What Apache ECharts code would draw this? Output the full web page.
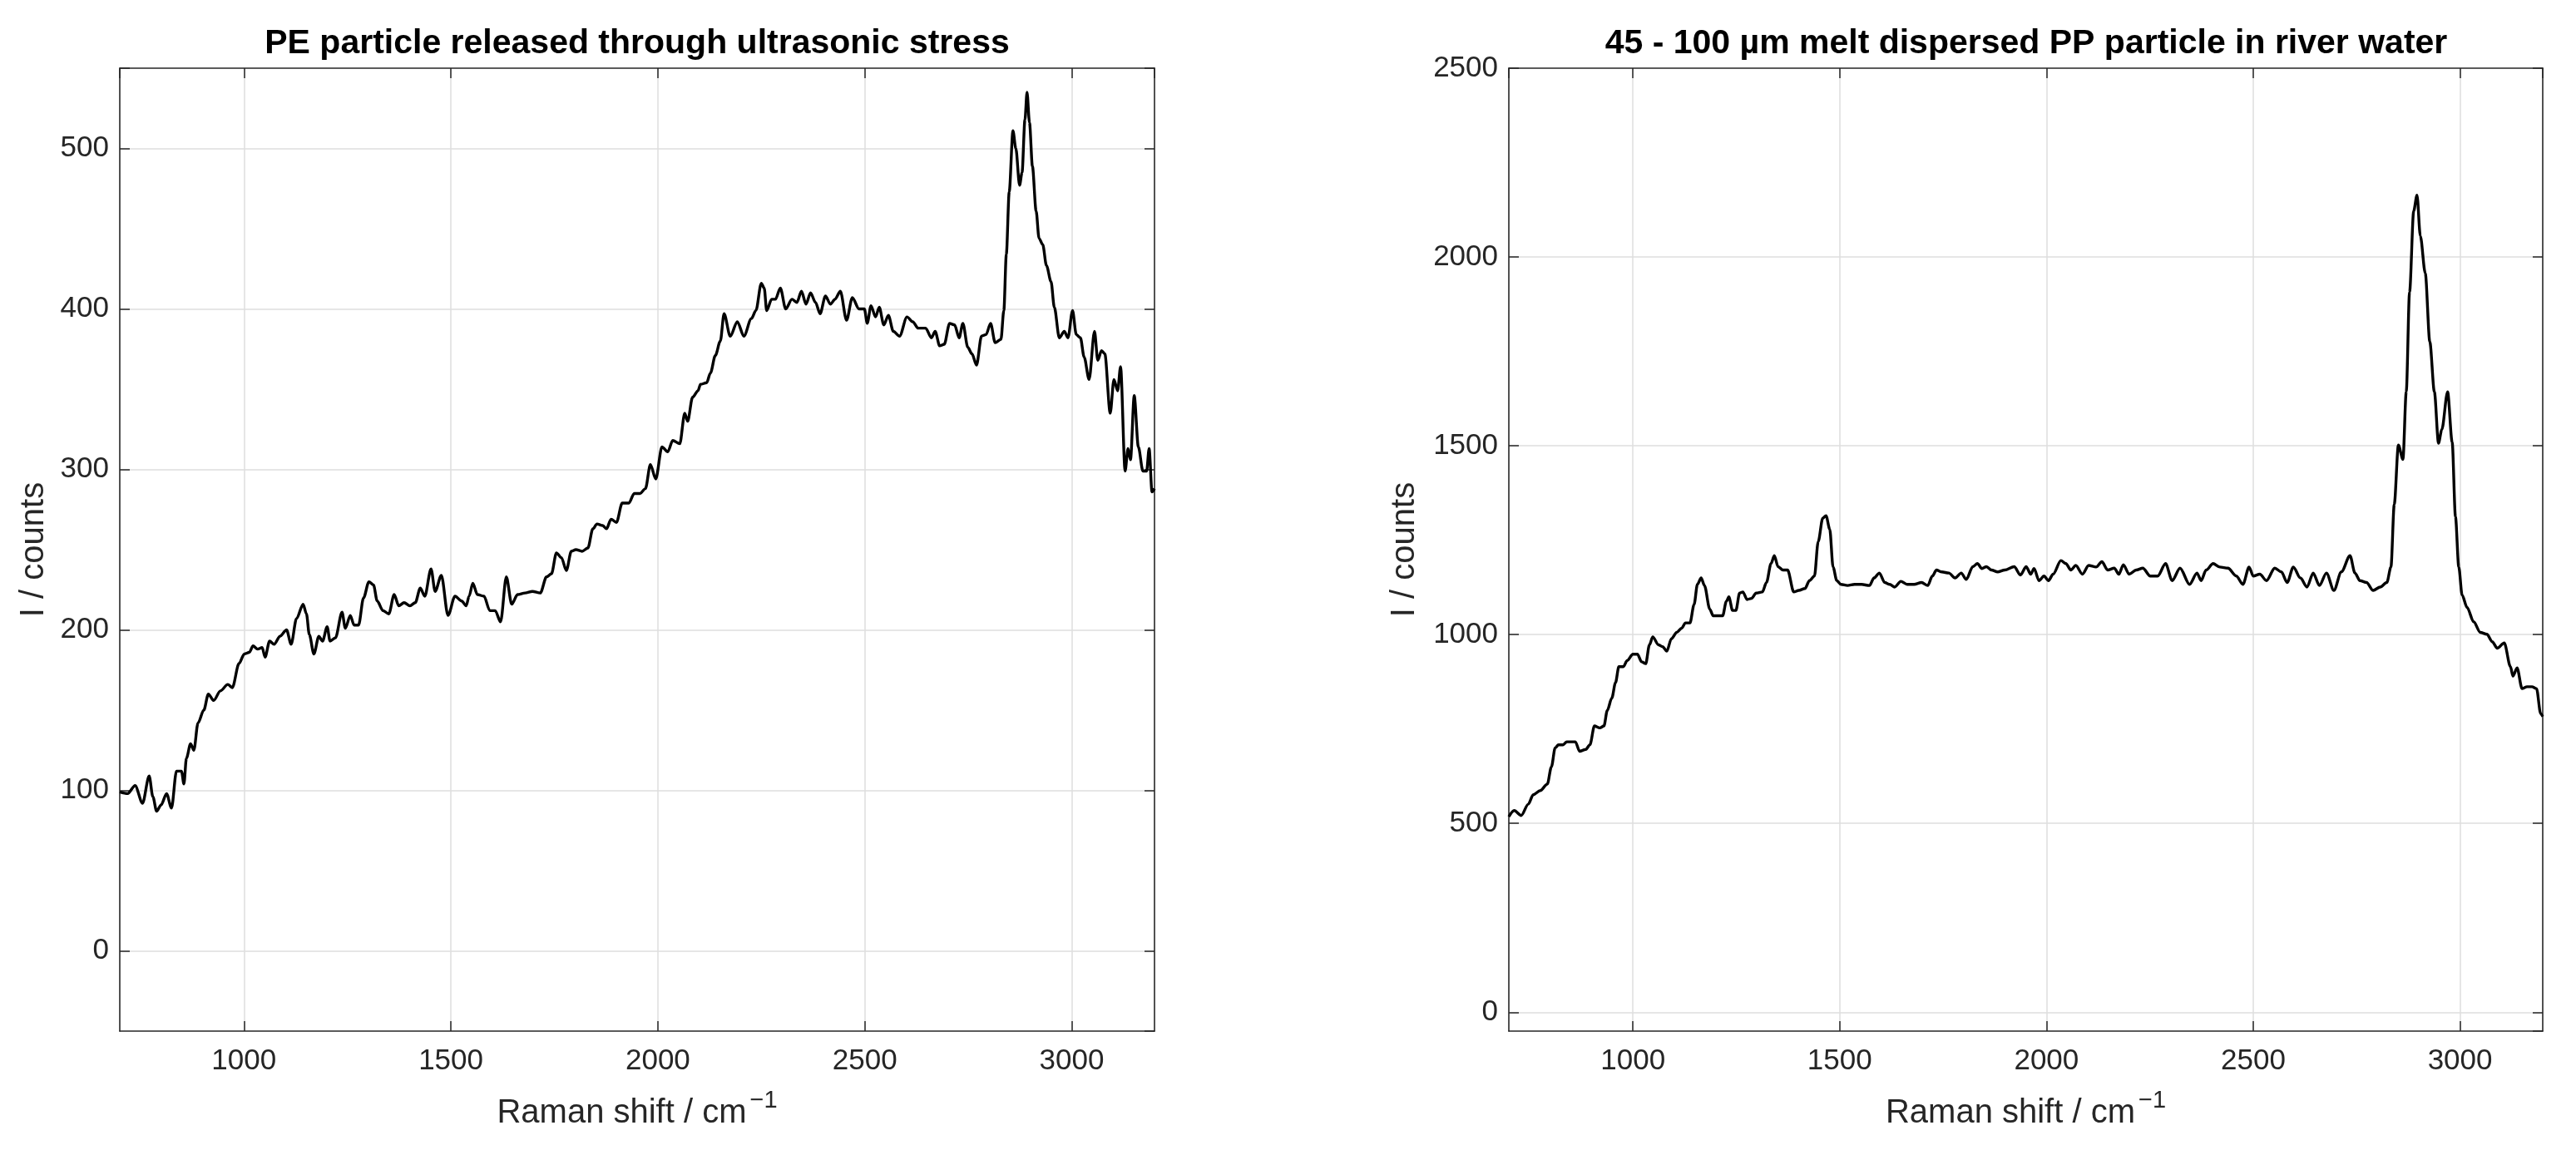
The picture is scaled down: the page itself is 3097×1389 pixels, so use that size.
<!DOCTYPE html>
<html>
<head>
<meta charset="utf-8">
<script src="https://cdn.jsdelivr.net/npm/echarts@6/dist/echarts.min.js"></script>
<style>
html,body{margin:0;padding:0;background:#ffffff;}
#chart{width:3097px;height:1389px;}
</style>
</head>
<body>
<div id="chart"></div>
<script>
// ---------- data ----------
const peShift = [700,719,737,755,771,780,789,800,813,825,837,849,855,861,871,879,889,903,914,927,943,961,972,988,1001,1013,1022,1033,1044,1051,1062,1073,1087,1103,1114,1127,1143,1151,1158,1169,1181,1190,1201,1208,1221,1237,1245,1257,1266,1277,1289,1302,1313,1322,1336,1350,1363,1374,1387,1401,1414,1426,1437,1452,1462,1477,1493,1510,1526,1537,1544,1553,1564,1580,1594,1607,1620,1634,1647,1661,1679,1697,1716,1731,1743,1755,1767,1779,1791,1802,1817,1831,1843,1853,1867,1876,1887,1900,1914,1930,1943,1957,1970,1982,1995,2010,2024,2036,2053,2065,2072,2084,2097,2103,2118,2127,2139,2151,2160,2175,2192,2208,2226,2237,2250,2257,2263,2275,2284,2296,2309,2324,2336,2347,2358,2369,2381,2392,2405,2417,2428,2441,2456,2470,2486,2499,2506,2515,2526,2535,2546,2557,2569,2584,2602,2616,2629,2647,2661,2670,2681,2692,2705,2717,2728,2737,2749,2759,2770,2782,2793,2804,2815,2829,2836,2842,2849,2858,2865,2874,2880,2887,2892,2898,2905,2914,2921,2930,2939,2950,2958,2970,2982,2991,3002,3011,3021,3030,3042,3055,3063,3072,3080,3093,3102,3111,3118,3129,3136,3142,3151,3161,3172,3181,3187,3194,3200];
const peCounts = [99,98,103,92,109,96,87,91,98,89,112,112,104,120,129,125,142,150,160,156,162,166,164,179,185,186,190,188,189,183,193,191,196,200,191,207,216,210,197,185,196,193,202,193,195,211,201,209,203,203,220,230,228,218,212,210,222,215,217,215,217,226,221,238,224,234,209,221,218,215,221,229,222,221,212,212,205,233,216,222,223,224,223,233,235,248,245,237,249,250,249,251,263,266,265,263,269,267,279,279,285,285,288,303,294,314,311,318,316,335,330,345,349,353,354,360,371,380,397,383,392,383,394,399,416,413,399,406,406,413,400,406,404,411,403,410,404,397,408,403,406,411,393,407,400,400,391,402,395,401,390,396,386,383,395,392,388,388,382,386,377,378,391,390,382,391,376,372,365,383,384,391,379,381,399,434,473,511,500,477,485,518,535,516,489,461,444,440,427,417,401,382,386,382,399,384,382,370,356,386,368,374,372,335,356,349,364,299,313,306,346,314,299,299,313,286,288];

const ppShift = [700,713,730,747,759,776,793,803,812,820,831,840,852,861,871,886,896,907,920,930,938,949,958,966,977,986,1000,1011,1021,1031,1040,1048,1062,1072,1082,1093,1106,1118,1127,1138,1148,1156,1165,1173,1186,1194,1207,1217,1226,1232,1241,1249,1258,1266,1276,1287,1298,1313,1323,1334,1342,1351,1363,1374,1389,1401,1416,1427,1439,1448,1459,1467,1476,1484,1493,1503,1519,1536,1553,1572,1583,1596,1609,1621,1633,1648,1663,1680,1698,1713,1724,1734,1747,1764,1779,1794,1806,1822,1833,1844,1855,1867,1882,1899,1922,1937,1951,1962,1970,1982,1994,2005,2016,2035,2047,2059,2071,2087,2102,2120,2134,2148,2164,2175,2186,2200,2217,2233,2251,2269,2288,2304,2323,2346,2364,2374,2386,2403,2419,2439,2459,2475,2490,2500,2516,2532,2552,2568,2582,2597,2614,2630,2645,2660,2677,2695,2713,2734,2746,2758,2774,2790,2807,2823,2833,2841,2851,2862,2870,2878,2888,2896,2904,2916,2927,2938,2948,2956,2970,2981,2989,2997,3005,3017,3033,3049,3065,3078,3090,3107,3122,3128,3138,3150,3162,3174,3185,3195,3200];
const ppCounts = [518,534,521,551,576,587,604,650,700,708,708,716,716,716,691,696,708,758,753,758,799,832,873,915,915,931,948,948,928,923,973,994,973,968,956,989,1006,1017,1031,1031,1080,1133,1150,1130,1067,1050,1050,1050,1088,1100,1064,1064,1110,1113,1093,1096,1110,1113,1138,1188,1209,1180,1171,1171,1113,1117,1122,1143,1155,1246,1308,1315,1279,1179,1143,1133,1130,1133,1133,1130,1150,1163,1138,1133,1126,1141,1133,1133,1138,1130,1155,1171,1166,1163,1150,1163,1146,1180,1188,1175,1180,1171,1166,1171,1180,1158,1180,1160,1175,1143,1155,1143,1160,1196,1188,1171,1183,1160,1183,1179,1193,1171,1176,1160,1185,1160,1171,1176,1155,1155,1188,1143,1176,1133,1163,1143,1171,1188,1179,1176,1155,1133,1179,1155,1160,1143,1176,1166,1138,1179,1150,1126,1163,1130,1163,1117,1166,1209,1163,1143,1138,1117,1126,1138,1179,1345,1502,1464,1643,1907,2122,2164,2056,1957,1775,1643,1507,1543,1643,1510,1312,1179,1105,1072,1034,1006,1001,981,964,978,915,890,912,857,862,862,857,791,783];

const xTicks = [1000, 1500, 2000, 2500, 3000];
const peYTicks = [0, 100, 200, 300, 400, 500];
const ppYTicks = [0, 500, 1000, 1500, 2000, 2500];
const titles = ['PE particle released through ultrasonic stress', '45 - 100 \u00b5m melt dispersed PP particle in river water'];
const xNameMain = 'Raman shift / cm';
const xNameSup = '\u22121';
const yName = 'I / counts';

// ---------- styling ----------
const FONT = "'Liberation Sans', Arial, Helvetica, sans-serif";
const AX = '#262626';
const GRID = '#dedede';

function pairs(xs, ys) { return xs.map((x, i) => [x, ys[i]]); }
function tickFmt(list) { return v => (list.indexOf(v) >= 0 ? String(v) : ''); }

const grids = [
  {left: 144, top: 82, width: 1244, height: 1158},
  {left: 1814, top: 82, width: 1243, height: 1158}
];

function xMain(gi) {
  return {
    type: 'value', gridIndex: gi, position: 'bottom', min: 700, max: 3200, splitNumber: 5,
    name: '{m|' + xNameMain + '}{s|' + xNameSup + '}', nameLocation: 'middle', nameGap: 69,
    nameTextStyle: {
      fontFamily: FONT, color: AX,
      rich: {
        m: {fontFamily: FONT, fontSize: 40, color: AX, lineHeight: 60},
        s: {fontFamily: FONT, fontSize: 29, color: AX, lineHeight: 29, verticalAlign: 'top', padding: [0, 0, 0, 4]}
      }
    },
    axisLine: {show: true, onZero: false, lineStyle: {color: AX, width: 1.6}},
    axisTick: {show: true, inside: true, length: 12, lineStyle: {color: AX, width: 1.5}},
    axisLabel: {show: true, margin: 19, fontFamily: FONT, fontSize: 35, color: AX, formatter: tickFmt(xTicks), showMinLabel: false, showMaxLabel: false},
    splitLine: {show: true, showMinLine: false, showMaxLine: false, lineStyle: {color: GRID, width: 1.5}}
  };
}
function xTop(gi) {
  return {
    type: 'value', gridIndex: gi, position: 'top', min: 700, max: 3200, splitNumber: 5,
    axisLine: {show: true, onZero: false, lineStyle: {color: AX, width: 1.6}},
    axisTick: {show: true, inside: true, length: 12, lineStyle: {color: AX, width: 1.5}},
    axisLabel: {show: false},
    splitLine: {show: false}
  };
}
function yMain(gi, min, max, ticks, gap) {
  return {
    type: 'value', gridIndex: gi, position: 'left', min: min, max: max, splitNumber: 5,
    name: yName, nameLocation: 'middle', nameGap: gap, nameRotate: 90,
    nameTextStyle: {fontFamily: FONT, fontSize: 40, color: AX},
    axisLine: {show: true, onZero: false, lineStyle: {color: AX, width: 1.6}},
    axisTick: {show: true, inside: true, length: 12, lineStyle: {color: AX, width: 1.5}},
    axisLabel: {show: true, margin: 13, fontFamily: FONT, fontSize: 35, color: AX, formatter: tickFmt(ticks), showMinLabel: false},
    splitLine: {show: true, showMinLine: false, showMaxLine: false, lineStyle: {color: GRID, width: 1.5}}
  };
}
function yRight(gi, min, max) {
  return {
    type: 'value', gridIndex: gi, position: 'right', min: min, max: max, splitNumber: 5,
    axisLine: {show: true, onZero: false, lineStyle: {color: AX, width: 1.6}},
    axisTick: {show: true, inside: true, length: 12, lineStyle: {color: AX, width: 1.5}},
    axisLabel: {show: false},
    splitLine: {show: false}
  };
}

const chart = echarts.init(document.getElementById('chart'), null, {renderer: 'canvas'});
chart.setOption({
  animation: false,
  backgroundColor: '#ffffff',
  title: [
    {text: titles[0], left: 766, top: 53, textAlign: 'center', textVerticalAlign: 'middle', padding: 0,
     textStyle: {fontFamily: FONT, fontSize: 41, fontWeight: 'bold', color: '#000000'}},
    {text: titles[1], left: 2436, top: 53, textAlign: 'center', textVerticalAlign: 'middle', padding: 0,
     textStyle: {fontFamily: FONT, fontSize: 41, fontWeight: 'bold', color: '#000000'}}
  ],
  grid: grids,
  xAxis: [xMain(0), xTop(0), xMain(1), xTop(1)],
  yAxis: [yMain(0, -50, 550, peYTicks, 83), yRight(0, -50, 550), yMain(1, -50, 2500, ppYTicks, 105), yRight(1, -50, 2500)],
  series: [
    {type: 'line', xAxisIndex: 0, yAxisIndex: 0, data: pairs(peShift, peCounts), showSymbol: false, smooth: 0.3, smoothMonotone: 'x',
     lineStyle: {color: '#000000', width: 3.4}, itemStyle: {color: '#000000'}},
    {type: 'line', xAxisIndex: 2, yAxisIndex: 2, data: pairs(ppShift, ppCounts), showSymbol: false, smooth: 0.3, smoothMonotone: 'x',
     lineStyle: {color: '#000000', width: 3.4}, itemStyle: {color: '#000000'}}
  ]
});
</script>
</body>
</html>
